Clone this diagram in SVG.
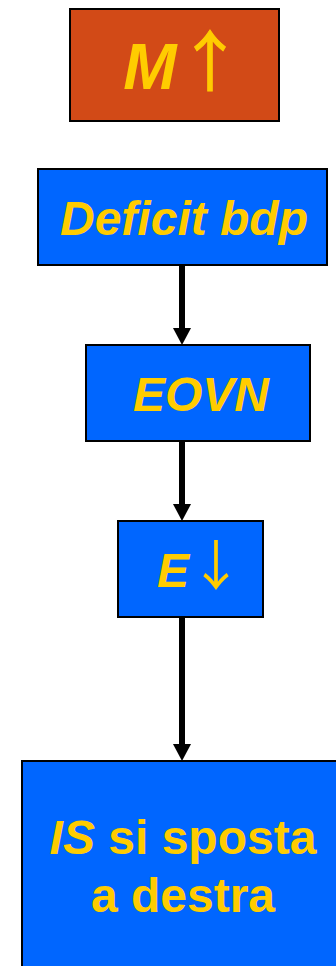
<svg xmlns="http://www.w3.org/2000/svg" width="336" height="966" viewBox="0 0 336 966">
<defs>
<style>
.box{stroke:#000;stroke-width:2}
.blue{fill:#0066FF}
.orange{fill:#D24A17}
.t{font-family:"Liberation Sans",Arial,sans-serif;font-weight:bold;font-size:48px;fill:#FFCC00;text-anchor:middle}
.i{font-style:italic}
.ar{font-family:"Noto Sans CJK SC",sans-serif;font-weight:normal;font-style:normal;fill:#FFCC00;text-anchor:middle}
.conn{stroke:#000;stroke-width:6;fill:none}
.head{fill:#000}
</style>
</defs>
<rect width="336" height="966" fill="#fff"/>
<g id="connectors">
<path class="conn" d="M182,265 V330"/>
<path class="head" d="M173,328 L191,328 L182,345 Z"/>
<path class="conn" d="M182,441 V506"/>
<path class="head" d="M173,504 L191,504 L182,521 Z"/>
<path class="conn" d="M182,617 V746"/>
<path class="head" d="M173,744 L191,744 L182,761 Z"/>
</g>
<g id="node-m">
<rect class="box orange" x="70" y="9" width="209" height="112"/>
<text class="t i" x="150" y="89" style="font-size:64px">M</text>
<text class="ar" x="210" y="86" style="font-size:66px;stroke:#FFCC00;stroke-width:1">↑</text>
</g>
<g id="node-deficit">
<rect class="box blue" x="38" y="169" width="289" height="96"/>
<text class="t i" x="184" y="235">Deficit bdp</text>
</g>
<g id="node-eovn">
<rect class="box blue" x="86" y="345" width="224" height="96"/>
<text class="t i" x="201" y="411">EOVN</text>
</g>
<g id="node-e">
<rect class="box blue" x="118" y="521" width="145" height="96"/>
<text class="t" x="157" y="587" style="text-anchor:start"><tspan class="i">E</tspan><tspan class="ar" dy="-1" style="font-size:54px">↓</tspan></text>
</g>
<g id="node-is">
<rect class="box blue" x="22" y="761" width="330" height="220"/>
<text class="t" x="183" y="854"><tspan class="i">IS</tspan> si sposta</text>
<text class="t" x="183" y="912">a destra</text>
</g>
</svg>
